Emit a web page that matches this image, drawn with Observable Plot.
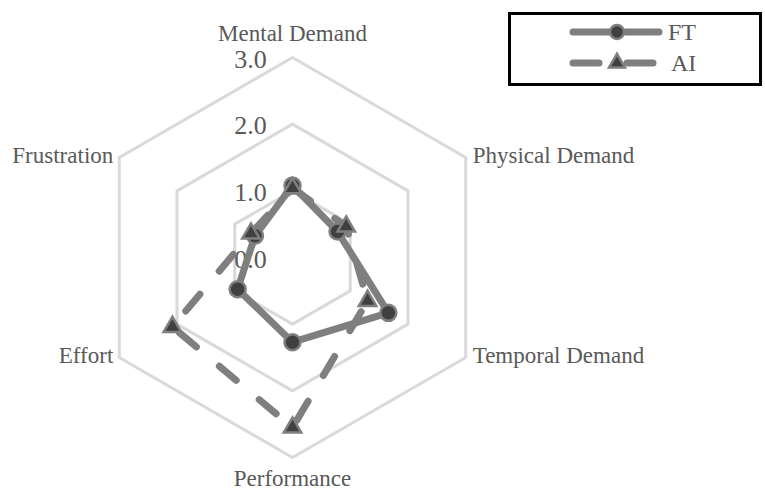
<!DOCTYPE html>
<html>
<head>
<meta charset="utf-8">
<script src="https://cdn.jsdelivr.net/npm/d3@7"></script>
<script src="https://cdn.jsdelivr.net/npm/@observablehq/plot@0.6"></script>
<style>
  html, body { margin: 0; padding: 0; background: #fff; }
  #wrap { position: relative; width: 765px; height: 496px; }
  #legend { position: absolute; left: 508px; top: 12px; width: 248px; height: 68px; border: 3px solid #000; background: #fff; font-family: "Liberation Serif", serif; }
</style>
</head>
<body>
<div id="wrap">
  <div id="chart"></div>
  <div id="legend"></div>
</div>
<script>
const categories = ["Mental Demand", "Physical Demand", "Temporal Demand", "Performance", "Effort", "Frustration"];
const ftValues = [1.08, 0.78, 1.66, 1.27, 0.95, 0.65];
const aiValues = [1.04, 0.93, 1.30, 2.55, 2.08, 0.72];
const gridLevels = [1, 2, 3];
const tickLabels = ["0.0", "1.0", "2.0", "3.0"];
const seriesNames = ["FT", "AI"];

const n = categories.length;
const angle = i => Math.PI / 2 - i * 2 * Math.PI / n;
const pt = (i, r) => ({x: r * Math.cos(angle(i)), y: r * Math.sin(angle(i))});

const ftPts = ftValues.map((v, i) => ({...pt(i, v), cat: categories[i]}));
const aiPts = aiValues.map((v, i) => ({...pt(i, v), cat: categories[i]}));
const closed = a => a.concat([a[0]]);

const gridData = gridLevels.flatMap(level =>
  d3.range(n + 1).map(i => ({...pt(i % n, level), level})));

const catLabels = categories.map((c, i) => {
  const p = pt(i, 3);
  let anchor = "middle", dx = 0, dy = 0;
  if (i === 0) { dy = -24; }
  else if (i === 3) { dy = 21; }
  else if (i === 1 || i === 2) { anchor = "start"; dx = 7; dy = -2; }
  else { anchor = "end"; dx = -6; dy = -2; }
  return {...p, text: c, anchor, dx, dy};
});

const tickData = tickLabels.map((t, i) => ({x: 0, y: i, text: t}));

const unit = 66.67;
const cx = 292, cy = 257;
const W = 765, H = 496;

const gray = "#7f7f7f";
const textColor = "#595959";
const font = "Liberation Serif";

const groups = d3.groups(catLabels, d => `${d.anchor}|${d.dx}|${d.dy}`);
const labelMarks = groups.map(([k, arr]) =>
  Plot.text(arr, {x: "x", y: "y", text: "text", textAnchor: arr[0].anchor, dx: arr[0].dx, dy: arr[0].dy,
    fill: textColor, fontSize: 23, fontFamily: font}));

const svg = Plot.plot({
  width: W, height: H,
  margin: 0,
  x: {domain: [-cx / unit, (W - cx) / unit], range: [0, W], axis: null},
  y: {domain: [-(H - cy) / unit, cy / unit], range: [H, 0], axis: null},
  marks: [
    Plot.line(gridData, {x: "x", y: "y", z: "level", stroke: "#d9d9d9", strokeWidth: 3}),
    Plot.text(tickData, {x: "x", y: "y", text: "text", dx: -42, dy: 2, fill: textColor, fontSize: 26, fontFamily: font}),
    Plot.line(closed(ftPts), {x: "x", y: "y", stroke: gray, strokeWidth: 7, strokeLinecap: "round", strokeLinejoin: "round"}),
    Plot.line(closed(aiPts), {x: "x", y: "y", stroke: gray, strokeWidth: 7, strokeLinecap: "round", strokeLinejoin: "round", strokeDasharray: "22,30"}),
    Plot.dot(ftPts, {x: "x", y: "y", r: 8, fill: "#404040", stroke: gray, strokeWidth: 2.5}),
    Plot.dot(aiPts, {x: "x", y: "y", r: 6.5, symbol: "triangle", fill: "#404040", stroke: gray, strokeWidth: 2.5}),
    ...labelMarks
  ]
});
document.getElementById("chart").appendChild(svg);

// Legend
const lg = d3.select("#legend").append("svg").attr("width", 248).attr("height", 68);
seriesNames.forEach((name, i) => {
  const y = 17 + i * 31;
  const g = lg.append("g");
  if (i === 0) {
    g.append("line").attr("x1", 62).attr("x2", 148).attr("y1", y).attr("y2", y)
      .attr("stroke", gray).attr("stroke-width", 7).attr("stroke-linecap", "round");
    g.append("circle").attr("cx", 106).attr("cy", y).attr("r", 7).attr("fill", "#404040").attr("stroke", gray).attr("stroke-width", 2.5);
  } else {
    g.append("line").attr("x1", 62).attr("x2", 88).attr("y1", y).attr("y2", y)
      .attr("stroke", gray).attr("stroke-width", 7).attr("stroke-linecap", "round");
    g.append("line").attr("x1", 116).attr("x2", 142).attr("y1", y).attr("y2", y)
      .attr("stroke", gray).attr("stroke-width", 7).attr("stroke-linecap", "round");
    g.append("path").attr("d", d3.symbol(d3.symbolTriangle, 110)()).attr("transform", `translate(106,${y})`)
      .attr("fill", "#404040").attr("stroke", gray).attr("stroke-width", 2.5);
  }
  g.append("text").attr("x", i === 0 ? 157 : 160).attr("y", y).attr("dy", "0.35em")
    .attr("fill", textColor).attr("font-size", 24).attr("font-family", font).text(name);
});
</script>
</body>
</html>
